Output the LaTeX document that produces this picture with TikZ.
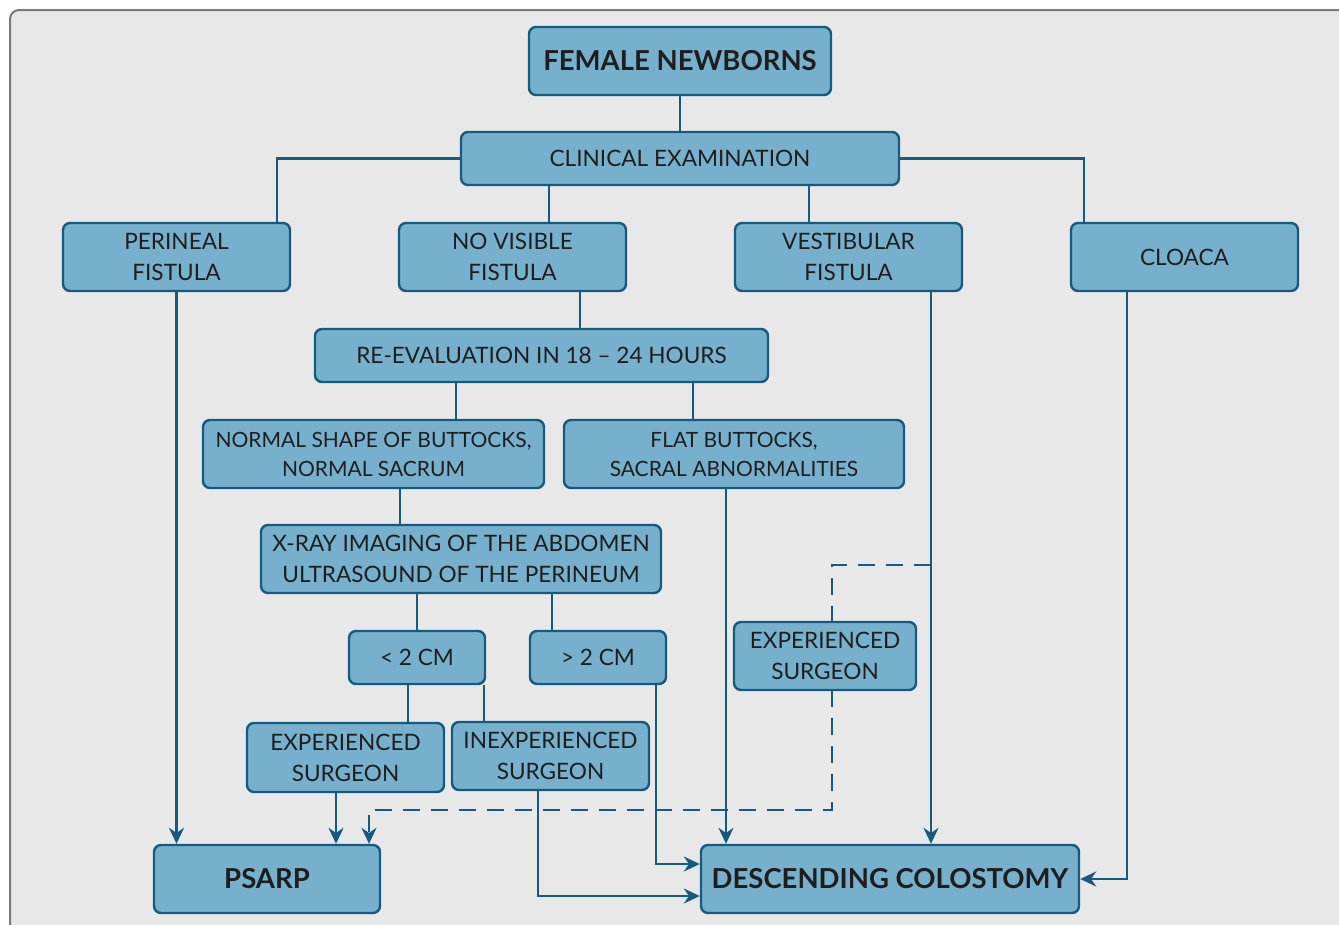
\documentclass[tikz,border=0pt]{standalone}
\usepackage{fontspec}
\setmainfont{Lato}
\usetikzlibrary{arrows.meta, backgrounds}
\definecolor{cfill}{HTML}{77B0CC}
\definecolor{cedge}{HTML}{175A80}
\definecolor{ctext}{HTML}{1E1E1E}
\definecolor{cframe}{HTML}{7A7A7A}
\definecolor{cback}{HTML}{E8E8E8}
\tikzset{
  box/.style={draw=cedge, fill=cfill, rounded corners=7pt, line width=2.4pt, align=center, inner sep=0pt, text=ctext, font=\fontsize{22.6}{31}\selectfont},
  small/.style={font=\fontsize{21}{29}\selectfont},
  big/.style={font=\fontsize{27.5}{31}\selectfont\bfseries},
  line/.style={draw=cedge, line width=2.4pt},
  arrow/.style={line, -{Stealth[length=16pt, width=15pt]}},
  dline/.style={arrow, dash pattern=on 17pt off 11pt},
}
\begin{document}
\begin{tikzpicture}[x=1pt, y=-1pt]
  \useasboundingbox (0,0) rectangle (1339,924);
  \node[box, big, minimum width=302, minimum height=68] (fem) at (680,61) {FEMALE NEWBORNS};
  \node[box, minimum width=438, minimum height=53] (clin) at (680,158.5) {CLINICAL EXAMINATION};
  \node[box, minimum width=227, minimum height=68] (peri) at (176.5,257) {PERINEAL\\FISTULA};
  \node[box, minimum width=227, minimum height=68] (novis) at (512.5,257) {NO VISIBLE\\FISTULA};
  \node[box, minimum width=227, minimum height=68] (vest) at (848.5,257) {VESTIBULAR\\FISTULA};
  \node[box, minimum width=227, minimum height=68] (cloaca) at (1184.5,257) {CLOACA};
  \node[box, minimum width=453, minimum height=53] (reeval) at (541.5,355.5) {RE-EVALUATION IN 18 -- 24 HOURS};
  \node[box, small, minimum width=341, minimum height=68] (normal) at (373.5,454) {NORMAL SHAPE OF BUTTOCKS,\\NORMAL SACRUM};
  \node[box, small, minimum width=340, minimum height=68] (flat) at (734,454) {FLAT BUTTOCKS,\\SACRAL ABNORMALITIES};
  \node[box, minimum width=400, minimum height=68] (xray) at (461,559) {X-RAY IMAGING OF THE ABDOMEN\\ULTRASOUND OF THE PERINEUM};
  \node[box, minimum width=136, minimum height=53] (lt) at (417,657.5) {< 2 CM};
  \node[box, minimum width=136, minimum height=53] (gt) at (598,657.5) {> 2 CM};
  \node[box, minimum width=197, minimum height=69] (expl) at (345.5,757.5) {EXPERIENCED\\SURGEON};
  \node[box, minimum width=197, minimum height=68] (inexp) at (550.5,756) {INEXPERIENCED\\SURGEON};
  \node[box, minimum width=182, minimum height=68] (expr) at (825,656) {EXPERIENCED\\SURGEON};
  \node[box, big, minimum width=226, minimum height=68] (psarp) at (267,879) {PSARP};
  \node[box, big, minimum width=378, minimum height=68] (colost) at (890,879) {DESCENDING COLOSTOMY};
  \coordinate (dv) at (931,565);
  \coordinate (dk) at (832,810);

  \begin{scope}[on background layer]
    % frame
    \draw[cframe, fill=cback, line width=2pt, rounded corners=9pt] (10,10) rectangle (1360,950);
    % tree
    \draw[line] (fem) -- (clin);
    \draw[line] (clin.west) -| ([xshift=100.5]peri.north);
    \draw[line] (clin.east) -| ([xshift=-100.5]cloaca.north);
    \draw[line] ([xshift=36.5]novis.north) -- ([xshift=36.5]novis.north |- clin.south);
    \draw[line] ([xshift=-39.5]vest.north) -- ([xshift=-39.5]vest.north |- clin.south);
    \draw[line] ([xshift=67.5]novis.south) -- ([xshift=67.5]novis.south |- reeval.north);
    \draw[line] ([xshift=82.5]normal.north) -- ([xshift=82.5]normal.north |- reeval.south);
    \draw[line] ([xshift=-41]flat.north) -- ([xshift=-41]flat.north |- reeval.south);
    \draw[line] ([xshift=26.5]normal.south) -- ([xshift=26.5]normal.south |- xray.north);
    \draw[line] (lt.north) -- (lt.north |- xray.south);
    \draw[line] ([xshift=-46]gt.north) -- ([xshift=-46]gt.north |- xray.south);
    \draw[line] ([xshift=62.5]expl.north) -- ([xshift=62.5]expl.north |- lt.south);
    \draw[line] ([xshift=-66.5]inexp.north) -- ([xshift=-66.5]inexp.north |- lt.south);
    % outcomes
    \draw[arrow] (peri.south) -- (peri.south |- psarp.north);
    \draw[arrow] ([xshift=-9.5]expl.south) -- ([xshift=-9.5]expl.south |- psarp.north);
    \draw[dline] (dv) -| (dk) -| ([xshift=102]psarp.north);
    \draw[arrow] ([xshift=-12.5]inexp.south) |- ([yshift=-17]colost.west);
    \draw[arrow] ([xshift=58]gt.south) |- ([yshift=15]colost.west);
    \draw[arrow] ([xshift=-8]flat.south) -- ([xshift=-8]flat.south |- colost.north);
    \draw[arrow] ([xshift=82.5]vest.south) -- ([xshift=82.5]vest.south |- colost.north);
    \draw[arrow] ([xshift=-57.5]cloaca.south) |- (colost.east);
  \end{scope}
\end{tikzpicture}
\end{document}
